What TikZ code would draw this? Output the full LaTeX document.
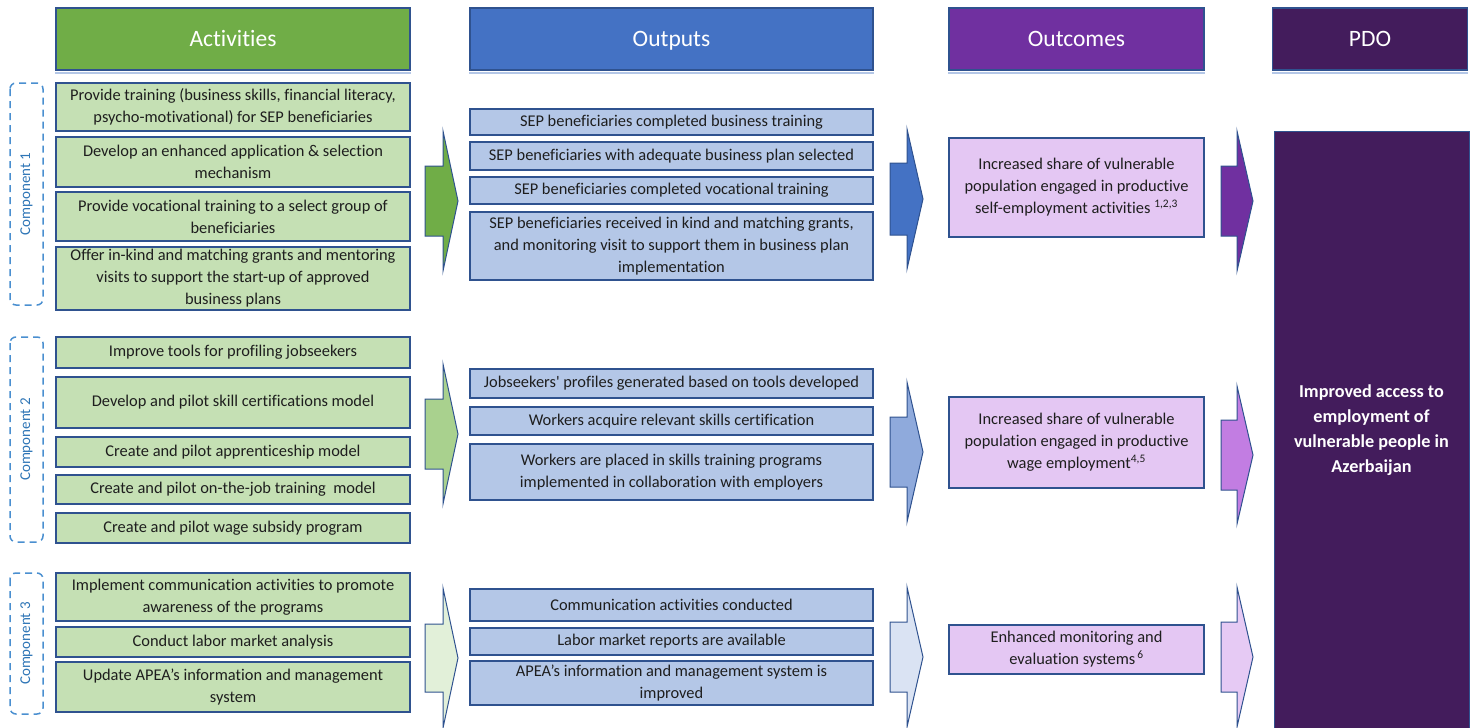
\documentclass[tikz,border=0pt]{standalone}
\usepackage{fontspec}
\setmainfont{Carlito}[Ligatures=NoCommon]
\usetikzlibrary{calc}
\definecolor{bord}{HTML}{2F528F}
\definecolor{hgreen}{HTML}{70AD47}
\definecolor{hblue}{HTML}{4472C4}
\definecolor{hpurple}{HTML}{7030A0}
\definecolor{hpdo}{HTML}{431C5C}
\definecolor{fgreen}{HTML}{C5E0B4}
\definecolor{fblue}{HTML}{B4C7E7}
\definecolor{fpurple}{HTML}{E4C7F3}
\definecolor{agreenb}{HTML}{A9D18E}
\definecolor{agreenc}{HTML}{E2F0D9}
\definecolor{abluea}{HTML}{4472C4}
\definecolor{ablueb}{HTML}{8FAADC}
\definecolor{abluec}{HTML}{DAE3F3}
\definecolor{apurplea}{HTML}{7030A0}
\definecolor{apurpleb}{HTML}{C27DE2}
\definecolor{apurplec}{HTML}{E6CAF4}
\definecolor{comptext}{HTML}{2E75B6}
\definecolor{compline}{HTML}{4A8FD0}
\definecolor{txt}{HTML}{1E1E1E}
\definecolor{shadowc}{HTML}{B4C7E7}
\newcommand\blockarr[7]{%
  \draw[arrline, fill=#7] (#1,#4-#5) -- (#2,#4-#5) -- (#2,#4-#6) -- (#3,#4)
    -- (#2,#4+#6) -- (#2,#4+#5) -- (#1,#4+#5) -- cycle;}
\tikzset{
  hdr/.style={draw=bord, line width=1.5pt, inner sep=0pt, minimum height=62pt,
    text height=15pt, text depth=0pt,
    text=white, font=\fontsize{23.5}{28}\selectfont},
  hdrshadow/.style={draw=shadowc, line width=2pt},
  box/.style={draw=bord, line width=1.5pt, inner sep=0pt, align=center,
    text=txt, font=\fontsize{16.4}{22}\selectfont},
  actbox/.style={box, fill=fgreen, minimum width=354pt},
  outbox/.style={box, fill=fblue, minimum width=403pt},
  ocbox/.style={box, fill=fpurple, minimum width=255pt},
  pdobox/.style={draw=bord, line width=1pt, fill=hpdo, inner sep=0pt, align=center,
    text=white, minimum width=195pt, font=\bfseries\fontsize{18.2}{25}\selectfont},
  compbox/.style={draw=compline, line width=1.5pt, dash pattern=on 7pt off 5pt,
    rounded corners=6pt, rotate=90, minimum height=33pt, inner sep=0pt,
    text=comptext, font=\fontsize{15}{18}\selectfont},
  arrline/.style={draw=bord, line width=1pt, line join=miter},
}
\begin{document}
\begin{tikzpicture}[x=1pt, y=-1pt]
\useasboundingbox (0,0) rectangle (1476,728);
% headers
\node[hdr, fill=hgreen, minimum width=354pt] (hA) at (233,39) {Activities};
\node[hdr, fill=hblue, minimum width=403pt] (hO) at (671.5,39) {Outputs};
\node[hdr, fill=hpurple, minimum width=255pt] (hC) at (1076.5,39) {Outcomes};
\node[hdr, fill=hpdo, minimum width=195pt] (hP) at (1370,39) {PDO};
\foreach \h in {hA,hO,hC,hP}{
  \draw[hdrshadow] ([yshift=-2pt]\h.south west) -- ([yshift=-2pt]\h.south east);}
% component labels
\node[compbox, minimum width=222pt] (c1) at (26.5,194) {Component 1};
\node[compbox, minimum width=205pt] (c2) at (26.5,439.5) {Component 2};
\node[compbox, minimum width=141pt] (c3) at (26.5,643.5) {Component 3};
% activities
\node[actbox, minimum height=48pt] (a1) at (233,107) {Provide training (business skills, financial literacy,\\psycho-motivational) for SEP beneficiaries};
\node[actbox, minimum height=50pt] (a2) at (233,162) {Develop an enhanced application \& selection\\mechanism};
\node[actbox, minimum height=49pt] (a3) at (233,216.5) {Provide vocational training to a select group of\\beneficiaries};
\node[actbox, minimum height=63pt] (a4) at (233,278.5) {Offer in-kind and matching grants and mentoring\\visits to support the start-up of approved\\business plans};
\node[actbox, minimum height=31pt] (b1) at (233,352.5) {Improve tools for profiling jobseekers};
\node[actbox, minimum height=51pt] (b2) at (233,402.5) {Develop and pilot skill certifications model};
\node[actbox, minimum height=30pt] (b3) at (233,452) {Create and pilot apprenticeship model};
\node[actbox, minimum height=29pt] (b4) at (233,489.5) {Create and pilot on-the-job training\ \ model};
\node[actbox, minimum height=30pt] (b5) at (233,528) {Create and pilot wage subsidy program};
\node[actbox, minimum height=48pt] (d1) at (233,597) {Implement communication activities to promote\\awareness of the programs};
\node[actbox, minimum height=30pt] (d2) at (233,642) {Conduct labor market analysis};
\node[actbox, minimum height=50pt] (d3) at (233,687) {Update APEA’s information and management\\system};
% outputs
\node[outbox, minimum height=26pt] (o1) at (671.5,122) {SEP beneficiaries completed business training};
\node[outbox, minimum height=28pt] (o2) at (671.5,156) {SEP beneficiaries with adequate business plan selected};
\node[outbox, minimum height=27pt] (o3) at (671.5,190.5) {SEP beneficiaries completed vocational training};
\node[outbox, minimum height=68pt] (o4) at (671.5,246) {SEP beneficiaries received in kind and matching grants,\\and monitoring visit to support them in business plan\\implementation};
\node[outbox, minimum height=29pt] (p1) at (671.5,383.5) {Jobseekers\textquotesingle\ profiles generated based on tools developed};
\node[outbox, minimum height=28pt] (p2) at (671.5,421) {Workers acquire relevant skills certification};
\node[outbox, minimum height=56pt] (p3) at (671.5,472) {Workers are placed in skills training programs\\implemented in collaboration with employers};
\node[outbox, minimum height=32pt] (q1) at (671.5,605) {Communication activities conducted};
\node[outbox, minimum height=27pt] (q2) at (671.5,641.5) {Labor market reports are available};
\node[outbox, minimum height=44pt] (q3) at (671.5,683) {APEA’s information and management system is\\improved};
% outcomes
\node[ocbox, minimum height=99pt] (oc1) at (1076.5,187.5) {Increased share of vulnerable\\population engaged in productive\\self-employment activities \textsuperscript{1,2,3}};
\node[ocbox, minimum height=91pt] (oc2) at (1076.5,442.5) {Increased share of vulnerable\\population engaged in productive\\wage employment\textsuperscript{4,5}};
\node[ocbox, minimum height=49pt] (oc3) at (1076.5,649.5) {Enhanced monitoring and\\evaluation systems\textsuperscript{\,6}};
% PDO
\node[pdobox, minimum height=598pt] (pdo) at (1371.5,430) {Improved access to\\employment of\\vulnerable people in\\Azerbaijan};
% block arrows
\blockarr{425}{443}{458}{201}{35}{70}{hgreen}
\blockarr{425}{443}{458}{434}{35}{70}{agreenb}
\blockarr{425}{443}{458}{658}{34}{70}{agreenc}
\blockarr{890}{907}{923}{199}{36}{70}{abluea}
\blockarr{890}{907}{923}{452}{35}{70}{ablueb}
\blockarr{890}{907}{923}{657}{35}{70}{abluec}
\blockarr{1221}{1237}{1253}{201}{35}{70}{apurplea}
\blockarr{1221}{1237}{1253}{455}{35}{69}{apurpleb}
\blockarr{1221}{1237}{1253}{657}{35}{70}{apurplec}
\end{tikzpicture}
\end{document}
